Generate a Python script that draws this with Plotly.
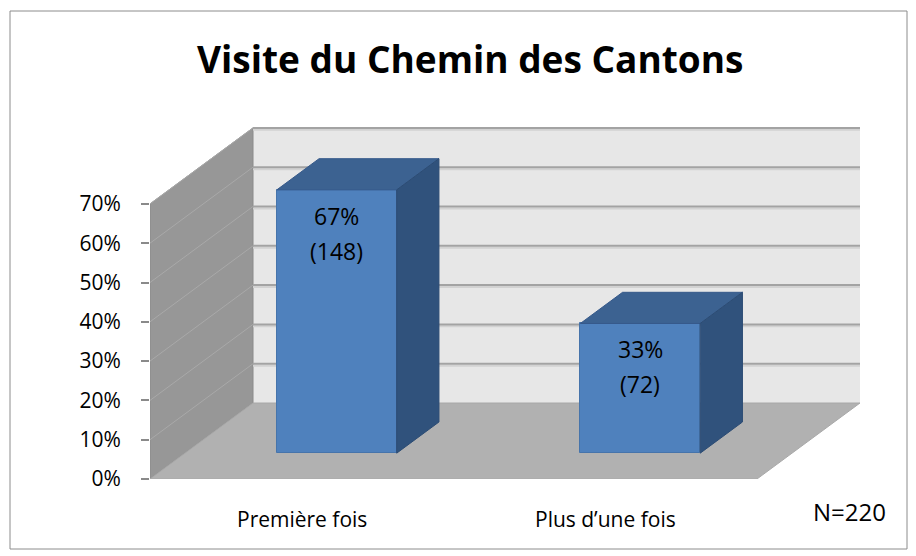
import plotly.graph_objects as go

# ---- data ----
categories = ["Première fois", "Plus d’une fois"]
percent_values = [67, 33]
counts = [148, 72]
y_tick_values = [0, 10, 20, 30, 40, 50, 60, 70]
y_tick_labels = [f"{v}%" for v in y_tick_values]
title_text = "Visite du Chemin des Cantons"
n_total = 220

# ---- 3D projection settings (oblique, Excel-like) ----
W_PX, H_PX = 916, 556
PLOT_L, PLOT_R, PLOT_T, PLOT_B = 150, 862, 120, 479
UNIT_PX = 303.5          # pixels per category unit
PCT_PX = 3.93            # pixels per percent
X_MAX = (PLOT_R - PLOT_L) / UNIT_PX
Y_MAX = (PLOT_B - PLOT_T) / PCT_PX
DX = 103 / UNIT_PX       # depth offset (x) for full depth
DY = 76 / PCT_PX         # depth offset (y) for full depth
WALL_TOP = 70
D1, D2 = 0.34, 0.75      # bar front / back depth
BAR_W = 0.395
N_CAT = len(categories)


def proj(c, v, d):
    return c + d * DX, v + d * DY


def path_of(points):
    pts = [proj(*p) for p in points]
    return "M " + " L ".join(f"{x},{y}" for x, y in pts) + " Z"


def px_to_paper_x(px):
    return (px - PLOT_L) / (PLOT_R - PLOT_L)


def px_to_paper_y(py):
    return (PLOT_B - py) / (PLOT_B - PLOT_T)


shapes = []
# back wall
shapes.append(dict(type="path", xref="x", yref="y", layer="below",
                   path=path_of([(0, 0, 1), (N_CAT, 0, 1), (N_CAT, WALL_TOP, 1), (0, WALL_TOP, 1)]),
                   fillcolor="#e7e7e7", line=dict(width=0)))
# left wall
shapes.append(dict(type="path", xref="x", yref="y", layer="below",
                   path=path_of([(0, 0, 0), (0, 0, 1), (0, WALL_TOP, 1), (0, WALL_TOP, 0)]),
                   fillcolor="#979797", line=dict(color="#8a8a8a", width=1)))
# floor
shapes.append(dict(type="path", xref="x", yref="y", layer="below",
                   path=path_of([(0, 0, 0), (N_CAT, 0, 0), (N_CAT, 0, 1), (0, 0, 1)]),
                   fillcolor="#b1b1b1", line=dict(color="#a8a8a8", width=1)))
# gridlines on back wall and left wall
for v in y_tick_values[1:]:
    x0, y0 = proj(0, v, 1)
    x1, y1 = proj(N_CAT, v, 1)
    # light highlight just under each back-wall gridline
    shapes.append(dict(type="line", xref="x", yref="y", layer="below",
                       x0=x0, y0=y0 - 0.5, x1=x1, y1=y1 - 0.5, line=dict(color="#d2d2d2", width=2)))
    shapes.append(dict(type="line", xref="x", yref="y", layer="below",
                       x0=x0, y0=y0, x1=x1, y1=y1, line=dict(color="#a3a3a3", width=2)))
    xa, ya = proj(0, v, 0)
    shapes.append(dict(type="line", xref="x", yref="y", layer="below",
                       x0=xa, y0=ya, x1=x0, y1=y0, line=dict(color="#a9a9a9", width=1)))
# outer border
shapes.append(dict(type="rect", xref="paper", yref="paper", layer="below",
                   x0=px_to_paper_x(10), x1=px_to_paper_x(907),
                   y0=px_to_paper_y(549), y1=px_to_paper_y(11),
                   line=dict(color="#8c8c8c", width=1), fillcolor="rgba(0,0,0,0)"))

fig = go.Figure()

centers = [i + 0.5 for i in range(N_CAT)]
front_x = [proj(c, 0, D1)[0] for c in centers]
front_base = [proj(c, 0, D1)[1] for c in centers]

fig.add_trace(go.Bar(x=front_x, y=percent_values, base=front_base, width=BAR_W,
                     marker=dict(color="#4f81bd", line=dict(color="#4674ab", width=1)),
                     hoverinfo="skip", showlegend=False))

for c, v in zip(centers, percent_values):
    cl, cr = c - BAR_W / 2, c + BAR_W / 2
    top = [proj(cl, v, D1), proj(cr, v, D1), proj(cr, v, D2), proj(cl, v, D2), proj(cl, v, D1)]
    side = [proj(cr, 0, D1), proj(cr, v, D1), proj(cr, v, D2), proj(cr, 0, D2), proj(cr, 0, D1)]
    fig.add_trace(go.Scatter(x=[p[0] for p in top], y=[p[1] for p in top], mode="lines",
                             fill="toself", fillcolor="#3c6291",
                             line=dict(color="#36598a", width=1),
                             hoverinfo="skip", showlegend=False))
    fig.add_trace(go.Scatter(x=[p[0] for p in side], y=[p[1] for p in side], mode="lines",
                             fill="toself", fillcolor="#30527c",
                             line=dict(color="#2c4c74", width=1),
                             hoverinfo="skip", showlegend=False))

annotations = []
for c, v, n, fx in zip(centers, percent_values, counts, front_x):
    ty = proj(c, v, D1)[1]
    annotations.append(dict(x=fx, y=ty, xref="x", yref="y", text=f"{v}%", showarrow=False,
                            xanchor="center", yanchor="middle",
                            yshift=-26, font=dict(family="Open Sans", size=23, color="#000000")))
    annotations.append(dict(x=fx, y=ty, xref="x", yref="y", text=f"({n})", showarrow=False,
                            xanchor="center", yanchor="middle",
                            yshift=-61, font=dict(family="Open Sans", size=23, color="#000000")))
for c, name in zip(centers, categories):
    annotations.append(dict(x=c, y=0, xref="x", yref="y", text=name, showarrow=False,
                            xanchor="center", yanchor="middle",
                            yshift=-40, font=dict(family="Open Sans", size=21, color="#000000")))
annotations.append(dict(x=px_to_paper_x(849), y=px_to_paper_y(511), xref="paper", yref="paper",
                        xanchor="center", yanchor="middle",
                        text=f"N={n_total}", showarrow=False,
                        font=dict(family="Open Sans", size=24, color="#000000")))
annotations.append(dict(x=px_to_paper_x(469.5), y=px_to_paper_y(59), xref="paper", yref="paper",
                        xanchor="center", yanchor="middle",
                        text=f"<b>{title_text}</b>", showarrow=False,
                        font=dict(family="Open Sans", size=37, color="#000000")))

fig.update_layout(
    width=W_PX, height=H_PX,
    margin=dict(l=PLOT_L, r=W_PX - PLOT_R, t=PLOT_T, b=H_PX - PLOT_B, pad=0),
    paper_bgcolor="#ffffff", plot_bgcolor="#ffffff",
    shapes=shapes, annotations=annotations,
    bargap=0,
    xaxis=dict(range=[0, X_MAX], visible=False, fixedrange=True),
    yaxis=dict(range=[0, Y_MAX], tickvals=y_tick_values, ticktext=y_tick_labels,
               ticks="outside", ticklen=8, tickwidth=2, tickcolor="#8a8a8a",
               showgrid=False, zeroline=False, showline=False,
               ticklabelstandoff=16,
               tickfont=dict(family="Open Sans", size=21, color="#000000"),
               fixedrange=True),
    showlegend=False,
)

fig.write_html("out.html", config={"displayModeBar": False},
               post_script="document.body.style.margin='0px';document.body.style.overflow='hidden';")
